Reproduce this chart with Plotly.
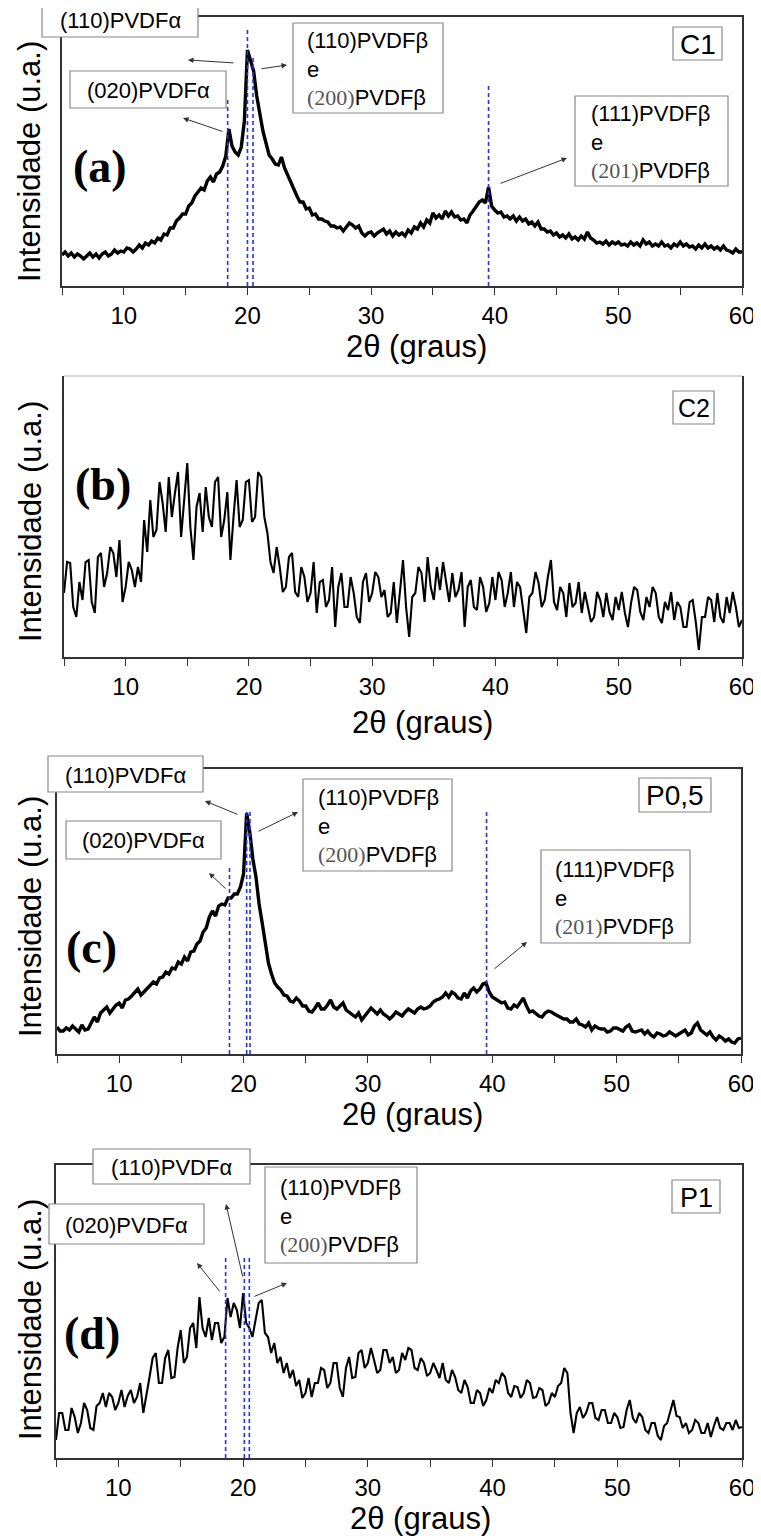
import numpy as np
import plotly.graph_objects as go

W, H = 761, 1538
OFF = 8                      # page body margin of the browser
FW, FH = W - OFF, H - OFF    # figure size so the page is exactly the window

# 2-theta scan grid (degrees), 0.25 deg step
two_theta = np.round(np.arange(5.0, 60.0001, 0.25), 2)

# Intensities (a.u.), 4 points per degree
int_c1 = [
    31, 34, 30, 33, 29, 32, 30, 27, 30, 33, 29, 32, 28, 32, 34, 30, 32, 36, 33, 35,
    34, 38, 37, 34, 37, 41, 38, 43, 41, 45, 43, 48, 46, 52, 51, 58, 58, 65, 68, 72,
    72, 80, 83, 90, 94, 98, 96, 105, 109, 104, 112, 114, 120, 130, 157, 140,
    134, 131, 139, 165, 236, 226, 215, 190, 170, 155, 143, 131, 127, 122, 121, 129,
    118, 111, 102, 96, 90, 84, 84, 77, 78, 71, 72, 67, 67, 65, 64, 60, 60, 58, 59, 55,
    59, 63, 61, 58, 60, 53, 50, 53, 54, 50, 53, 55, 57, 52, 55, 50, 54, 51, 53, 50,
    56, 53, 59, 57, 63, 59, 66, 63, 73, 68, 71, 67, 75, 70, 74, 69, 70, 66, 67, 63,
    71, 75, 80, 84, 86, 83, 99, 80, 76, 73, 74, 69, 70, 67, 70, 65, 69, 65, 67, 62,
    64, 60, 64, 57, 57, 54, 55, 51, 53, 49, 51, 48, 52, 47, 49, 46, 50, 47, 54, 48,
    46, 43, 44, 42, 45, 41, 44, 42, 44, 41, 42, 40, 44, 41, 43, 40, 46, 42, 44, 40,
    42, 40, 44, 40, 41, 38, 42, 40, 44, 40, 42, 39, 40, 37, 41, 38, 42, 38, 40, 37,
    39, 36, 40, 36, 35, 33, 37, 34, 34]

int_c2 = [
    64, 95, 94, 50, 40, 75, 57, 95, 97, 55, 44, 100, 104, 70, 84, 110, 104, 80, 117, 55,
    70, 95, 87, 70, 90, 75, 137, 105, 157, 120, 127, 175, 154, 125, 180, 140,
    164, 185, 120, 160, 194, 130, 97, 150, 164, 125, 170, 140, 130, 175, 180, 120,
    137, 165, 97, 140, 177, 130, 137, 175, 177, 135, 140, 185, 180, 140, 124, 95,
    84, 110, 90, 65, 70, 100, 104, 65, 60, 90, 80, 55, 64, 95, 44, 75, 77, 50, 57, 90,
    30, 70, 84, 50, 50, 80, 64, 40, 34, 75, 84, 55, 64, 85, 80, 60, 67, 40, 44, 75,
    34, 65, 97, 50, 20, 60, 64, 90, 84, 55, 100, 70, 57, 90, 67, 95, 77, 55, 84, 60,
    67, 85, 30, 70, 77, 50, 47, 80, 70, 45, 54, 80, 57, 85, 77, 50, 64, 85, 50, 75,
    70, 45, 24, 60, 64, 85, 74, 50, 57, 80, 97, 55, 47, 70, 64, 40, 74, 50, 54, 75,
    44, 65, 50, 35, 40, 65, 57, 40, 64, 45, 37, 60, 47, 65, 44, 30, 54, 70, 67, 45,
    37, 60, 50, 70, 64, 40, 34, 55, 47, 65, 37, 55, 50, 30, 30, 55, 57, 35, 7, 40,
    40, 60, 57, 35, 64, 40, 34, 60, 44, 65, 50, 30, 37]

int_p05 = [
    27, 23, 23, 26, 24, 28, 25, 22, 29, 24, 25, 31, 37, 32, 41, 44, 47, 41, 45, 49,
    51, 46, 54, 55, 58, 61, 65, 59, 62, 66, 68, 72, 70, 76, 77, 82, 80, 86, 85, 92,
    90, 97, 93, 102, 103, 110, 113, 122, 126, 137, 143, 138, 148, 150, 149, 156,
    156, 160, 160, 167, 180, 241, 222, 195, 177, 150, 131, 108, 91, 80, 71, 67,
    64, 59, 58, 53, 52, 56, 53, 48, 48, 43, 42, 46, 51, 45, 45, 49, 54, 47, 45, 48,
    51, 44, 42, 39, 37, 41, 34, 38, 42, 46, 43, 40, 44, 40, 38, 35, 38, 42, 40, 38,
    42, 45, 43, 41, 45, 47, 45, 46, 48, 52, 54, 55, 57, 61, 57, 62, 60, 56, 55, 61,
    56, 63, 66, 62, 65, 70, 71, 62, 57, 55, 53, 51, 52, 46, 45, 49, 47, 52, 56, 48,
    42, 43, 40, 38, 37, 41, 43, 42, 40, 38, 36, 35, 35, 32, 32, 35, 30, 29, 27, 31,
    24, 28, 26, 25, 25, 22, 23, 26, 26, 24, 23, 27, 29, 23, 22, 23, 24, 20, 23, 19,
    17, 21, 20, 18, 19, 22, 20, 18, 20, 22, 24, 19, 21, 28, 31, 24, 22, 19, 22, 17,
    14, 18, 16, 13, 15, 12, 11, 15, 16]

int_p1 = [
    18, 45, 45, 28, 28, 50, 41, 25, 35, 55, 48, 30, 28, 52, 55, 65, 51, 65, 61, 48,
    55, 68, 51, 62, 68, 55, 61, 75, 45, 65, 81, 100, 105, 75, 75, 100, 108, 80, 81, 110,
    128, 95, 101, 130, 135, 110, 161, 130, 121, 140, 118, 135, 135, 115, 121, 160,
    141, 155, 148, 130, 165, 135, 130, 121, 138, 155, 158, 125, 121, 105, 115, 95,
    101, 85, 95, 80, 88, 72, 78, 60, 65, 80, 61, 75, 75, 90, 88, 70, 75, 95, 95, 70,
    61, 90, 101, 80, 81, 105, 108, 90, 95, 110, 98, 85, 88, 108, 108, 95, 101, 85, 88, 105,
    98, 110, 108, 90, 88, 100, 95, 82, 85, 95, 88, 80, 95, 78, 75, 88, 81, 68, 65, 78,
    71, 55, 55, 68, 65, 52, 58, 70, 65, 78, 75, 85, 81, 65, 61, 72, 71, 60, 65, 78,
    75, 60, 61, 70, 68, 52, 55, 65, 61, 72, 75, 90, 85, 45, 25, 45, 51, 40, 45, 55,
    55, 40, 38, 48, 48, 35, 35, 45, 41, 30, 31, 48, 58, 40, 35, 45, 41, 28, 25, 35,
    35, 22, 18, 32, 35, 48, 58, 42, 41, 30, 35, 25, 28, 38, 35, 25, 25, 35, 21, 32,
    41, 30, 28, 35, 35, 28, 38, 30, 31]

x_tick_vals = [10, 20, 30, 40, 50, 60]

# reflection markers (2-theta) and the height where each dashed line starts
peaks_c1 = [18.4, 20.0, 20.45, 39.5]
tops_c1 = [189, 258, 231, 201]
peaks_p05 = [18.87, 20.25, 20.52, 39.54]
tops_p05 = [187, 245, 245, 244]
peaks_p1 = [18.6, 20.1, 20.5]
tops_p1 = [200, 203, 203]

sample_names = ["C1", "C2", "P0,5", "P1"]
panel_letters = ["(a)", "(b)", "(c)", "(d)"]

# ---------------- layout geometry (pixels in the window) ----------------
PANELS = [
    dict(l=62, r=742, t=17, b=286),
    dict(l=64, r=742, t=376, b=657),
    dict(l=57, r=741, t=769, b=1054),
    dict(l=56, r=742, t=1165, b=1458),
]
LINEW = [3.4, 2.1, 3.4, 2.1]
SERIES = [int_c1, int_c2, int_p05, int_p1]
PEAKS = [(peaks_c1, tops_c1), None, (peaks_p05, tops_p05), (peaks_p1, tops_p1)]

SANS = "Liberation Sans, Arial, sans-serif"
SERIF = "Liberation Serif, Times New Roman, serif"
AX = "#333333"


def px(x):
    return (x - OFF) / FW


def py(y):
    return 1 - (y - OFF) / FH


fig = go.Figure()
shapes = []
annotations = []


def label(text, x, y, size, family=SANS, xanchor="center", align="center", angle=0):
    annotations.append(dict(text=text, x=px(x), y=py(y), xref="paper", yref="paper",
                            xanchor=xanchor, yanchor="middle", align=align,
                            textangle=angle, showarrow=False,
                            font=dict(family=family, size=size, color="black")))


for i, (g, ys) in enumerate(zip(PANELS, SERIES)):
    n = i + 1
    xa = "x" if n == 1 else f"x{n}"
    ya = "y" if n == 1 else f"y{n}"
    fig.add_trace(go.Scatter(
        x=two_theta, y=ys, mode="lines", xaxis=xa, yaxis=ya,
        line=dict(color="black", width=LINEW[i]), showlegend=False,
        hoverinfo="skip"))
    fig.update_layout(**{
        ("xaxis" if n == 1 else f"xaxis{n}"): dict(
            domain=[px(g["l"]), px(g["r"])], anchor=ya, range=[5, 60],
            tickvals=x_tick_vals, ticks="outside", ticklen=7, tickwidth=1.3,
            tickcolor=AX, showline=True, linecolor=AX, linewidth=1.6,
            mirror=(n != 2), showgrid=False, zeroline=False, automargin=False,
            tickfont=dict(family=SANS, size=24, color="black"),
            minor=dict(dtick=5, ticks="outside", ticklen=7, tickwidth=1.3,
                       tickcolor=AX, showgrid=False),
            fixedrange=True),
        ("yaxis" if n == 1 else f"yaxis{n}"): dict(
            domain=[py(g["b"]), py(g["t"])], anchor=xa,
            range=[0, g["b"] - g["t"]], showticklabels=False, ticks="",
            showline=True, linecolor=AX, linewidth=1.6, mirror=True,
            showgrid=False, zeroline=False, automargin=False, fixedrange=True),
    })
    if n == 2:
        shapes.append(dict(type="line", xref="paper", yref="paper",
                           x0=px(g["l"]), x1=px(g["r"]), y0=py(g["t"]), y1=py(g["t"]),
                           line=dict(color="#cccccc", width=1.5)))
    pk = PEAKS[i]
    if pk:
        for xv, top in zip(*pk):
            shapes.append(dict(type="line", xref=xa, yref=ya, x0=xv, x1=xv,
                               y0=0, y1=top, layer="above",
                               line=dict(color="#2633e0", width=1.6, dash="4px,3px")))

# y-axis titles
y_title_y = [162, 522, 917, 1320]
for yt in y_title_y:
    label("Intensidade (u.a.)", 30, yt, 31, angle=-90)

# x-axis titles
x_title_y = [346, 722, 1114, 1518]
x_title_x = [416, 423, 412, 421]
for xt, yt in zip(x_title_x, x_title_y):
    label("2θ (graus)", xt, yt, 31)

# panel letters
letter_pos = [(100, 167), (103, 484), (91, 947), (92, 1333)]
for t, (lx, ly) in zip(panel_letters, letter_pos):
    label("<b>" + t + "</b>", lx, ly, 46, family=SERIF)

# sample name boxes: (x0, x1, y0, y1, fontsize)
name_boxes = [(673, 722, 27, 60, 28), (673, 714, 391, 424, 25),
              (639, 711, 778, 812, 28), (672, 720, 1180, 1213, 27)]


def box(x0, x1, y0, y1, color="#888888"):
    shapes.append(dict(type="rect", xref="paper", yref="paper",
                       x0=px(x0), x1=px(x1), y0=py(y1), y1=py(y0), layer="above",
                       fillcolor="white", line=dict(color=color, width=1.2)))


for name, (x0, x1, y0, y1, fs) in zip(sample_names, name_boxes):
    box(x0, x1, y0, y1)
    label(name, (x0 + x1) / 2, (y0 + y1) / 2 + 1, fs)

ALPHA110 = "(110)PVDFα"
ALPHA020 = "(020)PVDFα"
BETA_A = ("(110)PVDFβ<br>e<br><span style='font-family:Liberation Serif;color:#555'>(200)</span>PVDFβ")
BETA_B = ("(111)PVDFβ<br>e<br><span style='font-family:Liberation Serif;color:#555'>(201)</span>PVDFβ")

single_boxes = [
    (ALPHA110, 42, 198, 3, 37), (ALPHA020, 70, 226, 71, 108),
    (ALPHA110, 48, 203, 756, 792), (ALPHA020, 66, 221, 821, 859),
    (ALPHA110, 93, 250, 1149, 1184), (ALPHA020, 49, 204, 1204, 1244),
]
for t, x0, x1, y0, y1 in single_boxes:
    box(x0, x1, y0, y1)
    label(t, (x0 + x1) / 2, (y0 + y1) / 2 + 1, 22)

multi_boxes = [
    (BETA_A, 293, 443, 23, 113, 305), (BETA_B, 575, 728, 96, 186, 589),
    (BETA_A, 303, 452, 779, 871, 316), (BETA_B, 541, 690, 850, 943, 553),
    (BETA_A, 265, 417, 1167, 1263, 278),
]
for t, x0, x1, y0, y1, tx in multi_boxes:
    box(x0, x1, y0, y1)
    label(t, tx, (y0 + y1) / 2 + 1, 22, xanchor="left", align="left")

# arrows: tail -> head (pixels)
arrows = [
    ((235, 63), (188, 60)), ((260, 69), (287, 65)), ((224, 132), (183, 118)),
    ((499, 184), (567, 158)),
    ((239, 815), (205, 801)), ((257, 832), (298, 812)), ((227, 890), (209, 873)),
    ((493, 970), (527, 942)),
    ((243, 1278), (226, 1204)), ((221, 1293), (197, 1263)), ((253, 1297), (287, 1283)),
]
for (tx, ty), (hx, hy) in arrows:
    annotations.append(dict(text="", x=px(hx), y=py(hy), xref="paper", yref="paper",
                            ax=tx - hx, ay=ty - hy, showarrow=True, arrowhead=2,
                            arrowsize=1.1, arrowwidth=1, arrowcolor="#333333",
                            standoff=0, startstandoff=0))

fig.update_layout(width=FW, height=FH,
                  margin=dict(l=0, r=0, t=0, b=0, autoexpand=False),
                  paper_bgcolor="white", plot_bgcolor="white",
                  shapes=shapes, annotations=annotations, showlegend=False)

fig.write_html("out.html")
